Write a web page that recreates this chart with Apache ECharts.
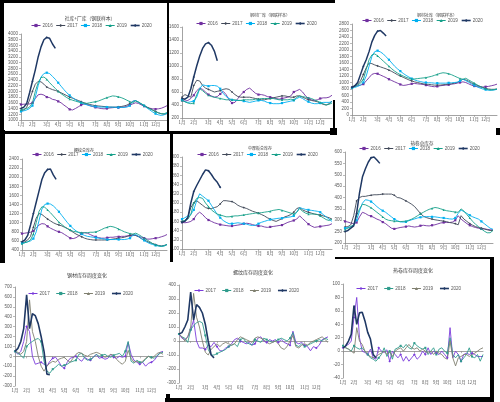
<!DOCTYPE html>
<html><head><meta charset="utf-8">
<script src="https://cdn.jsdelivr.net/npm/echarts@6/dist/echarts.min.js"></script>
<style>html,body{margin:0;padding:0;background:#fff}#c{width:500px;height:402px}</style>
</head><body><div id="c"></div>
<script>
// ---- tick labels ----
const monthLabels = ['1月','2月','3月','4月','5月','6月','7月','8月','9月','10月','11月','12月'];
const monthStartWeek = [0,4,9,13,17,21,26,30,34,38,43,47];
const years5 = ['2016','2017','2018','2019','2020'];
const years4 = ['2017','2018','2019','2020'];
const titles = ['社库+厂库（钢联样本）','钢材厂库（钢联样本）','钢材社库（钢联样本）','螺纹总库存','中厚板总库存','热卷总库存','钢材库存周度变化','螺纹库存周度变化','热卷库存周度变化'];

// ---- P1 社库+厂库 ----
const p1_2016 = [1540,1550,1560,1560,1600,1750,1880,1900,1870,1800,1780,1720,1700,1650,1600,1520,1450,1370,1350,1400,1460,1520,1560,1540,1500,1470,1440,1420,1400,1390,1400,1420,1430,1440,1430,1440,1450,1480,1520,1560,1600,1580,1530,1480,1440,1410,1390,1380,1390,1410,1450,1500];
const p1_2017 = [1300,1350,1450,1700,2000,2250,2350,2330,2250,2150,2100,2060,2030,2000,1950,1900,1850,1800,1760,1720,1680,1640,1600,1570,1540,1520,1500,1490,1480,1470,1460,1450,1450,1450,1460,1470,1490,1520,1570,1650,1680,1620,1560,1500,1450,1400,1350,1300,1250,1220,1200,1220];
const p1_2018 = [1300,1320,1350,1400,1500,1800,2200,2500,2620,2650,2620,2520,2420,2300,2180,2060,1950,1860,1780,1710,1650,1600,1560,1530,1500,1480,1470,1460,1450,1450,1450,1450,1450,1440,1440,1440,1440,1450,1500,1650,1680,1620,1560,1500,1420,1350,1280,1220,1180,1160,1180,1240];
const p1_2019 = [1350,1380,1400,1450,1600,2000,2300,2480,2500,2420,2300,2200,2100,2000,1920,1850,1780,1730,1690,1660,1630,1610,1590,1580,1600,1620,1640,1660,1700,1740,1780,1810,1840,1830,1810,1780,1740,1690,1640,1600,1660,1630,1570,1510,1450,1390,1340,1290,1250,1220,1220,1260];
const p1_2020 = [1400,1450,1580,1950,2350,2750,3200,3550,3800,3880,3850,3650,3500];

// ---- P2 钢材厂库 ----
const p2_2016 = [470,460,470,500,550,620,660,640,600,560,540,520,530,570,610,560,480,430,440,500,560,600,640,660,620,580,560,560,550,530,520,510,500,490,500,510,520,540,600,620,640,600,540,500,480,470,480,500,510,510,520,550];
const p2_2017 = [520,560,540,520,700,780,770,700,660,640,620,600,610,620,640,650,640,600,560,530,520,520,520,520,510,500,490,480,480,490,500,510,520,530,540,540,530,520,520,540,540,520,500,480,470,460,450,430,410,400,420,460];
const p2_2018 = [480,450,440,450,460,520,650,710,700,690,700,700,690,650,580,530,500,480,470,470,470,460,450,440,450,460,470,470,460,440,430,420,420,420,430,440,450,460,470,500,520,500,470,450,430,420,420,430,440,440,440,450];
const p2_2019 = [470,450,430,420,430,560,650,620,580,550,530,520,510,500,490,480,480,480,480,470,470,480,480,480,480,490,490,500,500,500,500,500,490,480,480,480,480,490,480,520,540,530,520,510,500,480,460,440,420,400,410,430];
const p2_2020 = [500,490,520,650,830,1000,1150,1270,1340,1360,1320,1230,1080];

// ---- P3 钢材社库 ----
const p3_2016 = [850,880,900,920,950,1050,1150,1250,1280,1270,1230,1190,1150,1100,1060,1020,980,940,910,920,940,960,970,960,950,940,920,900,880,870,880,900,910,920,930,950,960,980,1000,1020,1000,960,920,890,870,860,860,870,880,900,920,950];
const p3_2017 = [850,900,950,1050,1250,1450,1600,1580,1540,1510,1480,1450,1420,1380,1340,1290,1240,1200,1160,1120,1080,1050,1020,1000,980,960,950,940,930,920,920,920,930,940,950,960,980,1000,1050,1100,1080,1040,990,950,910,880,850,820,800,790,790,800];
const p3_2018 = [830,850,880,920,1000,1200,1500,1800,1950,1980,1940,1880,1790,1700,1600,1500,1420,1350,1280,1220,1170,1120,1080,1050,1030,1010,1000,990,990,980,980,980,980,980,990,990,1000,1010,1050,1100,1060,1010,960,910,870,830,800,780,760,760,770,790];
const p3_2019 = [850,880,920,980,1100,1400,1700,1850,1880,1820,1740,1660,1580,1500,1420,1350,1290,1240,1200,1160,1130,1110,1110,1120,1130,1140,1150,1170,1190,1220,1250,1280,1300,1290,1270,1240,1200,1160,1120,1100,1130,1080,1030,980,930,880,840,800,780,770,780,800];
const p3_2020 = [850,900,1000,1250,1500,1700,1950,2250,2450,2580,2600,2520,2430];

// ---- P4 螺纹总库存 ----
const p4_2016 = [760,770,780,790,820,880,950,980,970,920,880,850,820,800,780,740,700,660,650,670,710,760,780,770,740,710,690,670,660,660,670,680,680,690,690,700,700,710,720,720,720,700,680,660,640,640,650,660,670,690,710,740];
const p4_2017 = [550,580,620,700,900,1100,1200,1180,1130,1080,1040,1000,970,950,930,900,870,830,790,750,720,690,660,640,630,620,620,620,620,620,620,630,640,650,660,670,680,700,720,740,720,690,650,620,590,560,540,520,500,490,500,520];
const p4_2018 = [550,560,580,600,650,800,1050,1300,1400,1420,1410,1370,1310,1240,1160,1080,1000,930,870,820,780,750,720,700,690,680,670,660,650,640,630,630,630,630,630,630,630,640,660,720,740,700,650,610,570,540,520,500,490,480,490,520];
const p4_2019 = [540,560,580,620,750,1000,1250,1350,1340,1280,1220,1150,1080,1010,960,910,870,840,810,800,790,780,780,780,790,790,800,820,850,880,900,920,910,890,860,830,800,780,760,750,770,740,700,660,620,580,540,510,490,480,490,520];
const p4_2020 = [580,620,720,950,1200,1450,1700,1950,2100,2170,2180,2050,1950];

// ---- P5 中厚板总库存 ----
const p5_2016 = [158,157,158,160,165,175,180,175,168,163,160,157,155,153,152,151,150,150,151,152,153,155,156,155,153,151,150,150,148,147,148,149,150,151,152,155,158,160,162,165,172,166,160,154,150,147,148,149,150,151,152,155];
const p5_2017 = [160,162,170,190,200,205,200,195,190,188,188,190,192,198,205,205,204,203,200,195,192,190,188,185,182,180,178,175,172,168,165,162,160,163,166,170,172,175,180,188,190,185,182,180,178,176,175,174,172,170,168,165];
const p5_2018 = [165,168,172,175,185,205,220,215,210,205,195,185,175,168,162,158,155,155,156,157,156,155,154,152,151,152,155,158,160,162,164,165,166,167,167,168,169,170,172,180,190,188,186,185,184,183,182,180,175,170,165,160];
const p5_2019 = [160,162,165,175,200,210,212,210,200,192,185,180,176,174,172,170,170,171,172,172,173,174,175,176,177,178,178,179,180,181,182,184,185,186,184,182,180,178,176,180,188,182,178,176,176,176,175,172,168,164,162,165];
const p5_2020 = [158,160,168,200,225,238,250,262,272,270,262,252,245,234];

// ---- P6 热卷总库存 ----
const p6_2016 = [295,292,288,285,290,315,335,330,322,318,312,305,300,292,285,275,265,262,265,268,270,272,275,272,270,272,276,278,276,275,278,280,284,288,290,290,290,292,300,320,305,295,285,278,272,268,265,262,262,260,258,258];
const p6_2017 = [270,272,280,320,385,400,405,405,408,410,412,412,413,415,415,415,415,410,400,398,392,385,378,370,360,345,330,318,312,308,305,302,300,298,296,294,290,288,285,280,320,305,295,285,278,272,268,265,262,258,255,255];
const p6_2018 = [265,268,272,278,300,340,375,390,388,382,372,360,350,342,335,325,315,305,298,293,292,293,298,302,306,310,313,315,316,316,315,315,313,311,310,308,306,305,310,330,345,338,330,322,315,310,305,295,285,275,265,260];
const p6_2019 = [260,265,272,280,320,350,370,368,362,355,345,335,325,315,305,300,298,296,295,294,295,296,300,305,312,320,328,335,342,348,352,356,354,350,346,342,340,338,336,335,350,340,325,310,295,282,272,262,252,245,245,255];
const p6_2020 = [250,255,265,275,330,420,490,525,555,575,578,565,550];

// ---- P7 钢材库存周度变化 ----
const p7_2017 = [50,20,50,150,300,250,0,-80,-70,-60,-80,-100,-50,-20,-10,-50,-100,-120,-60,-20,-10,0,-30,-50,-10,-30,-40,-10,20,-20,-10,-30,-20,20,-10,-20,0,-10,0,140,20,-40,-60,-80,-60,-100,-70,-60,-40,0,40,50];
const p7_2018 = [50,30,10,-20,100,130,150,170,180,150,-50,-150,-170,-130,-110,-80,-100,-90,-80,-60,-50,-40,20,30,-20,-40,-30,-10,20,0,10,20,0,-10,10,20,30,0,50,150,-50,-70,-40,-60,-60,-30,0,-10,-20,10,30,40];
const p7_2019 = [50,40,20,50,150,570,250,150,0,-100,-150,-100,-70,-50,-60,-30,-20,-10,-40,-60,-20,20,40,30,10,0,20,30,40,30,10,-10,0,20,10,-30,-60,-80,-50,60,-20,-60,-50,-70,-50,-20,0,-20,0,30,40,20];
const p7_2020 = [50,80,150,280,620,280,430,410,330,200,50,-180,-185];

// ---- P8 螺纹库存周度变化 ----
const p8_2017 = [50,20,10,30,80,150,0,-50,-50,-60,-30,-40,-10,-40,-70,-70,-50,-40,-20,10,20,0,-10,-20,-10,-30,-20,20,30,0,-10,10,0,10,-10,10,-10,-20,-30,70,-10,-20,-10,-30,-40,-70,-40,-50,-30,10,20,30];
const p8_2018 = [50,30,20,-10,80,110,130,140,130,40,-60,-100,-100,-90,-80,-70,-60,-40,-30,-20,-40,10,20,-10,-20,-30,10,0,-10,20,10,0,-10,0,10,20,10,0,20,60,-30,-40,-20,-40,-30,-20,-10,0,10,0,20,10];
const p8_2019 = [50,30,0,30,100,340,170,100,0,-80,-100,-60,-40,-20,-40,-20,-10,-20,-30,-20,10,30,20,10,0,-10,20,30,20,10,-10,-20,-10,0,-20,-50,-60,-40,0,40,-40,-50,-30,-20,-30,-10,0,10,20,30,10,-10];
const p8_2020 = [50,60,100,150,350,150,260,240,200,120,0,-100,-120];

// ---- P9 热卷库存周度变化 ----
const p9_2017 = [5,8,10,15,50,80,20,0,-2,-5,3,-10,-12,5,0,-2,2,-15,0,-5,-10,-5,-15,-8,-15,-10,-5,-12,-8,0,-5,5,-5,0,-3,-5,0,-5,-10,35,-10,0,-5,-15,-5,-3,-5,-3,-5,-8,-8,-8];
const p9_2018 = [8,5,3,0,8,5,3,5,0,-5,-10,-12,-15,-10,-5,5,-8,0,-12,3,5,8,5,10,5,3,12,8,5,3,5,-5,0,5,-5,3,5,0,-3,20,-5,-10,-5,-15,-10,-5,5,-8,-10,-5,-15,-5];
const p9_2019 = [5,5,3,0,-3,35,15,10,0,-5,-8,-10,-8,-5,-3,0,-5,0,-8,0,3,5,0,5,10,5,3,5,0,3,0,-3,0,-5,0,-3,-5,-10,-12,15,-10,-22,-10,-8,-5,-5,-8,-5,-3,0,3,5];
const p9_2020 = [5,8,15,25,68,40,57,58,45,28,18,-5,-10];

// ---- styles / layout ----
const colA = {'2016':'#7030A0','2017':'#404858','2018':'#00B0F0','2019':'#17A08A','2020':'#1F3864'};
const colB = {'2017':'#7A3BDB','2018':'#2F9C8C','2019':'#808070','2020':'#1F3864'};
const symA = {'2016':'rect','2017':'diamond','2018':'rect','2019':'triangle','2020':'diamond'};

const panels = [
  {data:[p1_2016,p1_2017,p1_2018,p1_2019,p1_2020], years:years5, y:[1000,4000,200], g:{left:21,top:34,width:146,height:86}, t:[85,11,4.8], lg:[31,23]},
  {data:[p2_2016,p2_2017,p2_2018,p2_2019,p2_2020], years:years5, y:[200,1600,200], g:{left:182,top:27,width:150,height:91}, t:[265,8,4], lg:[196,21]},
  {data:[p3_2016,p3_2017,p3_2018,p3_2019,p3_2020], years:years5, y:[0,2800,200], g:{left:352,top:24,width:145,height:91}, t:[432,8,4], lg:[362,18]},
  {data:[p4_2016,p4_2017,p4_2018,p4_2019,p4_2020], years:years5, y:[400,2400,200], g:{left:22,top:159,width:145,height:91}, t:[79,143,4], lg:[32,152]},
  {data:[p5_2016,p5_2017,p5_2018,p5_2019,p5_2020], years:years5, y:[100,300,20], g:{left:182,top:157,width:150,height:92}, t:[255,141,4], lg:[197,152]},
  {data:[p6_2016,p6_2017,p6_2018,p6_2019,p6_2020], years:years5, y:[200,600,50], g:{left:345,top:152,width:148,height:91}, t:[417,136,4.6], lg:[359,146]},
  {data:[p7_2017,p7_2018,p7_2019,p7_2020], years:years4, y:[-300,700,100], g:{left:14,top:287,width:149,height:99}, t:[82,268,5], lg:[28,291], zero:true},
  {data:[p8_2017,p8_2018,p8_2019,p8_2020], years:years4, y:[-300,400,100], g:{left:179,top:285,width:149,height:98}, t:[248,265,5], lg:[194,288], zero:true},
  {data:[p9_2017,p9_2018,p9_2019,p9_2020], years:years4, y:[-40,100,20], g:{left:343,top:284,width:140,height:94}, t:[408,263,5], lg:[356,286], zero:true}
];

const cats = Array.from({length:52}, (_, i) => { const k = monthStartWeek.indexOf(i); return k >= 0 ? monthLabels[k] : ''; });
const isMonth = (i) => monthStartWeek.indexOf(i) >= 0;
const NUMF = '"Liberation Sans", Arial, sans-serif';
const CJKF = '"Noto Sans CJK SC", sans-serif';

const grid = [], xAxis = [], yAxis = [], series = [], title = [], legend = [];
panels.forEach((p, k) => {
  grid.push(Object.assign({containLabel:false}, p.g));
  xAxis.push({type:'category', gridIndex:k, data:cats, boundaryGap:false,
    axisLine:{onZero:!!p.zero, lineStyle:{color:'#8C8C8C', width:0.8}},
    axisTick:{show:true, interval:(i)=>isMonth(i), length:2, lineStyle:{color:'#8C8C8C', width:0.6}},
    axisLabel:{interval:(i)=>isMonth(i), fontSize:4.4, color:'#595959', margin:2.5, fontFamily:CJKF},
    splitLine:{show:false}});
  yAxis.push({type:'value', gridIndex:k, min:p.y[0], max:p.y[1], interval:p.y[2],
    axisLine:{show:true, lineStyle:{color:'#8C8C8C', width:0.8}},
    axisTick:{show:true, length:2, lineStyle:{color:'#8C8C8C', width:0.6}},
    axisLabel:{fontSize:4.5, color:'#595959', margin:3, fontFamily:NUMF, formatter:(v)=>String(v)},
    splitLine:{show:false}});
  title.push({text:titles[k], left:p.t[0], top:p.t[1], textAlign:'center',
    textStyle:{fontSize:p.t[2], fontWeight:'normal', color:'#404040', fontFamily:CJKF}});
  const row3 = !!p.zero;
  const cmap = row3 ? colB : colA;
  legend.push({left:p.lg[0], top:p.lg[1], padding:0, itemWidth:9, itemHeight:4, itemGap:row3 ? 6 : 3,
    textStyle:{fontSize:4.6, color:'#595959', fontFamily:NUMF, padding:[0,0,0,-3]},
    data:p.years.map(y => ({name:y, itemStyle:{color:cmap[y]}, lineStyle:{color:cmap[y], width: y==='2020'?1.6:1}}))});
  p.years.forEach((y, j) => {
    const is20 = y === '2020';
    let sym = symA[y], ss = 2.2, showS = true, lw = 0.9;
    if (row3) {
      if (y === '2017') { sym = 'diamond'; ss = 2.6; }
      else if (y === '2018') { sym = 'rect'; ss = 2; }
      else { showS = false; }
      lw = is20 ? 1.6 : 0.9;
    } else if (is20) { lw = 1.5; ss = 2.2; }
    series.push({type:'line', name:y, xAxisIndex:k, yAxisIndex:k, data:p.data[j],
      symbol:showS ? sym : 'none', symbolSize:ss, showSymbol:showS,
      lineStyle:{width:lw, color:cmap[y]}, itemStyle:{color:cmap[y]},
      animation:false, z:is20 ? 5 : 2});
  });
});

// collage frame pieces
const frames = [
  [0,0,170,3],[0,0,4,135],[0,131,170,3],[167,0,2,134],
  [165,0,170,3],[170,131,165,3],[333,100,2,30],
  [330,128,7,7],[496,128,4,7],
  [0,130,5,133],[170,131,3,131],
  [335,257,157,2],[490,257,4,145],
  [165,398,170,4],[330,397,164,5],[166,394,4,8]
];
const graphic = frames.map(f => ({type:'rect', silent:true, z:100,
  shape:{x:f[0], y:f[1], width:f[2], height:f[3]}, style:{fill:'#000'}}));

const chart = echarts.init(document.getElementById('c'), null, {renderer:'canvas', width:500, height:402});
chart.setOption({backgroundColor:'#fff', animation:false, title, legend, grid, xAxis, yAxis, series, graphic});
</script></body></html>
